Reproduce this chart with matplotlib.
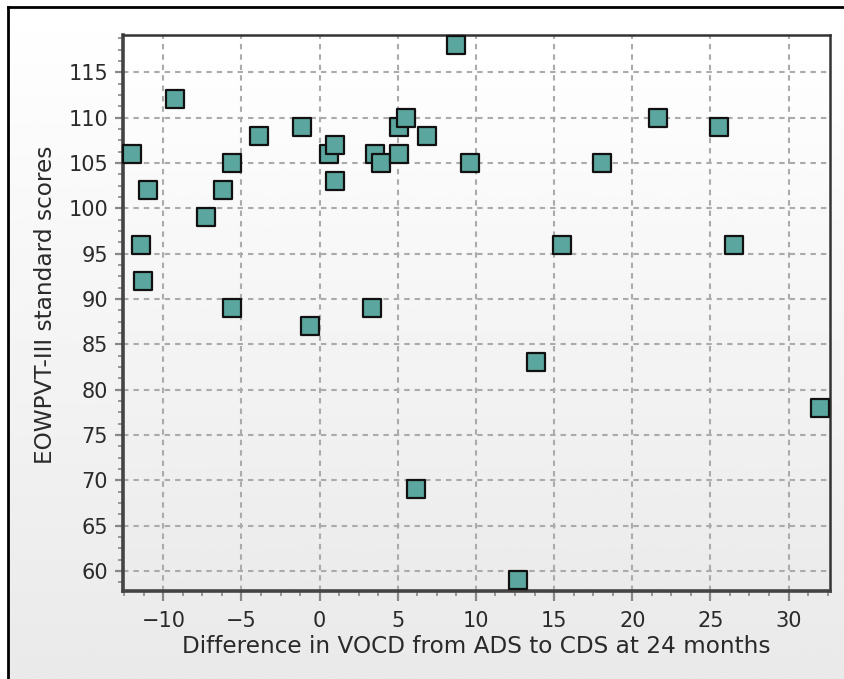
import numpy as np
import matplotlib
matplotlib.use("Agg")
import matplotlib.pyplot as plt
from matplotlib.ticker import MultipleLocator, AutoMinorLocator
from matplotlib.lines import Line2D

# data
vocd_diff = [-12.0, -11.4, -11.3, -10.95, -9.25, -7.3, -6.2, -5.6, -5.6, -3.85,
             -1.15, -0.6, 0.6, 1.0, 1.0, 3.57, 3.95, 3.35, 5.1, 5.5,
             5.1, 6.9, 6.15, 8.7, 9.6, 12.7, 13.85, 15.5, 18.05, 21.65,
             25.55, 26.5, 32.0]
eowpvt = [106, 96, 92, 102, 112, 99, 102, 105, 89, 108,
          109, 87, 106, 107, 103, 106, 105, 89, 109, 110,
          106, 108, 69, 118, 105, 59, 83, 96, 105, 110,
          109, 96, 78]

xlabel = "Difference in VOCD from ADS to CDS at 24 months"
ylabel = "EOWPVT-III standard scores"

fig = plt.figure(figsize=(8.45, 6.79), dpi=100)

# background gradient for the whole figure
bg = fig.add_axes([0, 0, 1, 1], zorder=-10)
grad = np.linspace(1.0, 0.915, 256).reshape(-1, 1)
bg.imshow(grad, aspect="auto", cmap="gray", vmin=0, vmax=1, extent=[0, 1, 0, 1])
bg.set_xlim(0, 1)
bg.set_ylim(0, 1)
bg.axis("off")

# outer border (top and left visible)
fig.add_artist(Line2D([8/845, 8/845], [0, 1 - 7/679], transform=fig.transFigure, color="black", lw=2))
fig.add_artist(Line2D([8/845, 1], [1 - 7/679, 1 - 7/679], transform=fig.transFigure, color="black", lw=2))
fig.patches.append(plt.Rectangle((0, 0), 7/845, 1, transform=fig.transFigure, color="white", zorder=-5))
fig.patches.append(plt.Rectangle((0, 1 - 6/679), 1, 6/679, transform=fig.transFigure, color="white", zorder=-5))

ax = fig.add_axes([123/845, 1 - 591/679, (830 - 123)/845, (591 - 35)/679])
ax.set_facecolor("none")
xlim = (-12.58, 32.65)
ylim = (57.8, 119.1)
# plot area gradient
pgrad = np.linspace(1.0, 0.92, 256).reshape(-1, 1)
ax.imshow(pgrad, aspect="auto", cmap="gray", vmin=0, vmax=1,
          extent=[xlim[0], xlim[1], ylim[0], ylim[1]], zorder=0)

ax.scatter(vocd_diff, eowpvt, marker="s", s=150, facecolor="#5BA69E",
           edgecolor="#111111", linewidth=1.6, zorder=3, clip_on=False)

ax.set_xlim(*xlim)
ax.set_ylim(*ylim)
ax.xaxis.set_major_locator(MultipleLocator(5))
ax.yaxis.set_major_locator(MultipleLocator(5))
ax.xaxis.set_minor_locator(AutoMinorLocator(4))
ax.yaxis.set_minor_locator(AutoMinorLocator(4))

ax.grid(True, which="major", color="#ababab", linestyle=(0, (2.6, 2.4)), linewidth=1.5, zorder=1)
ax.set_axisbelow(True)

for side in ["top", "right"]:
    ax.spines[side].set_linewidth(1.8)
    ax.spines[side].set_color("#333333")
for side in ["left", "bottom"]:
    ax.spines[side].set_linewidth(2.6)
    ax.spines[side].set_color("#444444")

ax.tick_params(which="both", color="#888888", direction="out")
ax.tick_params(axis="x", which="major", length=7.2, width=1.6,
               labelsize=15, labelcolor="#2a2a2a", pad=7.5)
ax.tick_params(axis="x", which="minor", length=3.6, width=1.2)
ax.tick_params(axis="y", which="major", length=5.8, width=1.6,
               labelsize=15, labelcolor="#2a2a2a", pad=5)
ax.tick_params(axis="y", which="minor", length=3.6, width=1.2)

ax.set_xlabel(xlabel, fontsize=16.7, color="#2a2a2a", labelpad=2.5)
ax.set_ylabel(ylabel, fontsize=16.7, color="#2a2a2a")
ax.yaxis.set_label_coords(-0.094, 0.514)

fig.savefig("out.png", dpi=100)
